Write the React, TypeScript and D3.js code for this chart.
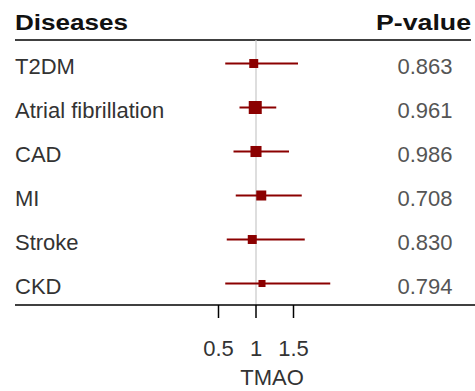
import React from 'react';
import * as d3 from 'd3';

const diseases = ['T2DM', 'Atrial fibrillation', 'CAD', 'MI', 'Stroke', 'CKD'];
const estimate = [0.97, 0.99, 1.0, 1.07, 0.95, 1.08];
const lower = [0.59, 0.78, 0.70, 0.73, 0.61, 0.59];
const upper = [1.56, 1.27, 1.44, 1.61, 1.65, 1.99];
const boxWeight = [0.69, 1, 0.85, 0.77, 0.69, 0.54];
const pValues = ['0.863', '0.961', '0.986', '0.708', '0.830', '0.794'];
const xTicks = [0.5, 1, 1.5];
const xTickLabels = ['0.5', '1', '1.5'];

const W = 475;
const H = 391;
const FONT = "'Liberation Sans', Arial, sans-serif";
const RED = '#8b0000';

export default function App() {
    const x = d3.scaleLinear().domain([0.5, 1.5]).range([218.5, 293.5]);
    const y = d3.scalePoint<string>().domain(diseases).range([63.5, 283.5]);
    const box = d3.scaleLinear().domain([0, 1]).range([0, 13]);

    const topLine = 40;
    const axisY = 305;

    return (
        <svg
            width={W}
            height={H}
            style={{ position: 'absolute', left: 0, top: 0, background: '#fff' }}
            fontFamily={FONT}
        >
            {/* headers */}
            <text x={15} y={30} fontSize={22.5} fontWeight="bold" fill="#111" textLength={113} lengthAdjust="spacingAndGlyphs">
                Diseases
            </text>
            <text x={471} y={29.5} fontSize={22.5} fontWeight="bold" fill="#111" textAnchor="end" textLength={95} lengthAdjust="spacingAndGlyphs">
                P-value
            </text>
            <line x1={15} x2={471} y1={topLine} y2={topLine} stroke="#000" strokeWidth={1.5} />

            {/* reference line */}
            <line x1={x(1)} x2={x(1)} y1={topLine} y2={axisY} stroke="#c8c8c8" strokeWidth={1.2} />

            {/* rows */}
            {diseases.map((d, i) => {
                const cy = y(d) as number;
                const s = box(boxWeight[i]);
                return (
                    <g key={d}>
                        <text x={15} y={cy + 10.5} fontSize={22} fill="#333">{d}</text>
                        <line x1={x(lower[i])} x2={x(upper[i])} y1={cy} y2={cy} stroke={RED} strokeWidth={2} />
                        <rect x={x(estimate[i]) - s / 2} y={cy - s / 2} width={s} height={s} fill={RED} />
                        <text x={452.5} y={cy + 10.5} fontSize={22} fill="#555" textAnchor="end">{pValues[i]}</text>
                    </g>
                );
            })}

            {/* x axis */}
            <line x1={15} x2={W} y1={axisY} y2={axisY} stroke="#000" strokeWidth={1.5} />
            {xTicks.map((t, i) => (
                <g key={t}>
                    <line x1={x(t)} x2={x(t)} y1={axisY} y2={axisY + 13} stroke="#000" strokeWidth={1.5} />
                    <text x={x(t)} y={356} fontSize={22} fill="#333" textAnchor="middle">{xTickLabels[i]}</text>
                </g>
            ))}
            <text x={272} y={385} fontSize={22} fill="#333" textAnchor="middle">TMAO</text>
        </svg>
    );
}
